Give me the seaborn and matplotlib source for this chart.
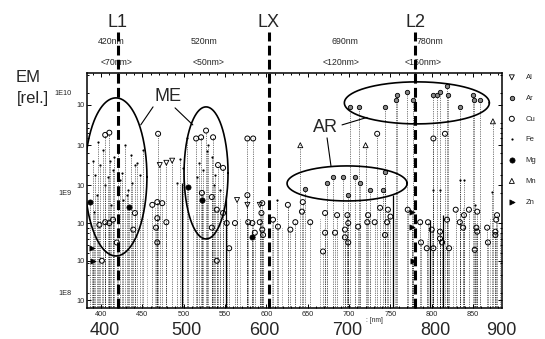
import numpy as np
import pandas as pd
import matplotlib
matplotlib.use("Agg")
import matplotlib.pyplot as plt
from matplotlib.ticker import MultipleLocator, LogLocator, NullLocator, FixedLocator, NullFormatter
import seaborn as sns

# ---------------- data (wavelength in nm, emission in units of 1E9) ----------------
al_nm = [471, 479, 486, 564.5, 577, 592]
al_em = [1.9, 2.0, 2.1, 0.85, 0.76, 0.76]

ar_nm = [701, 712, 743.5, 758, 757, 770, 777, 802, 806, 810, 818.5, 820, 834, 850, 851, 858,
         681, 693, 707, 673, 713, 647, 725, 741, 699, 743.5]
ar_em = [7.2, 7.2, 7.2, 9.5, 8.5, 10.2, 8.5, 9.5, 9.5, 10.2, 11.7, 9.5, 7.2, 9.5, 8.5, 8.5,
         1.45, 1.45, 1.45, 1.26, 1.26, 1.10, 1.07, 1.07, 0.95, 1.62]

cu_nm = [410, 405, 401, 398, 405, 410, 414.5, 441, 439, 419, 462, 468, 474, 468, 479, 466.5, 468, 469,
         515, 521, 527, 535.5, 547.6, 541.5, 522, 534, 540, 547.6, 552, 555, 540, 534,
         577, 584, 562, 583, 595, 596, 577, 578, 592, 586, 595, 594,
         668.5, 671, 683, 695, 699, 695, 699, 711, 723, 722, 731, 737.5, 747, 750, 746, 743.5,
         698, 685.5, 671, 653, 626, 644, 643, 635, 629, 614, 608, 734, 802, 816,
         829, 845, 839, 855, 879, 878, 818.5, 834, 838, 854, 867, 877, 855, 810, 800, 810, 812.5,
         821, 802, 794, 787, 852, 868, 877, 786, 795.5, 771]
cu_em = [4.0, 3.8, 0.21, 0.48, 0.51, 0.50, 0.54, 0.63, 0.43, 0.32, 0.76, 0.81, 0.79, 0.56, 0.51, 0.45, 0.32, 3.9,
         3.5, 3.6, 4.2, 3.6, 1.78, 1.9, 1.0, 0.91, 0.68, 0.63, 0.50, 0.28, 0.21, 0.45,
         3.5, 3.5, 0.50, 0.50, 0.43, 0.38, 0.95, 0.51, 0.51, 0.40, 0.79, 0.63,
         0.26, 0.40, 0.40, 0.43, 0.50, 0.36, 0.32, 0.46, 0.60, 0.51, 0.51, 0.71, 0.68, 0.58, 0.51, 0.38,
         0.60, 0.60, 0.63, 0.51, 0.76, 0.81, 0.65, 0.51, 0.43, 0.46, 0.54, 3.9, 3.5, 3.9,
         0.68, 0.68, 0.60, 0.65, 0.60, 0.54, 0.54, 0.51, 0.45, 0.45, 0.45, 0.41, 0.41, 0.41, 0.43, 0.35, 0.32,
         0.28, 0.28, 0.28, 0.32, 0.27, 0.32, 0.38, 0.51, 0.51, 0.68]

fe_nm = [396, 402, 411, 421, 429, 436, 441, 451, 447, 393, 405, 423, 433, 390, 414.5, 426.6,
         529, 534, 523, 516, 499, 504, 492, 544, 538, 496,
         834, 873, 852, 613, 802, 810, 839,
         395, 399, 408, 416, 425, 431, 438, 444, 392, 412, 528, 519, 537]
fe_em = [3.2, 2.7, 2.1, 2.8, 3.0, 2.4, 1.9, 2.7, 1.51, 1.51, 1.2, 1.35, 1.07, 2.1, 1.70, 0.85,
         3.0, 2.3, 1.70, 1.45, 1.78, 3.5, 1.26, 1.07, 1.51, 2.2,
         1.35, 1.02, 0.76, 0.85, 1.07, 1.07, 1.35,
         0.95, 1.9, 1.45, 2.3, 1.6, 0.95, 1.25, 2.0, 0.65, 0.75, 2.6, 2.0, 1.2]

mg_nm = [387, 434, 522, 583, 505]
mg_em = [0.81, 0.72, 0.85, 0.36, 1.15]

mn_nm = [641, 720, 874]
mn_em = [3.0, 3.0, 5.2]

zn_nm = [389, 776, 776, 777, 390]
zn_em = [0.28, 0.65, 0.46, 0.21, 0.21]

# further spectral lines without a symbol (dotted)
line_nm = [449.6, 455.6, 465.3, 478.6, 511.3, 516, 528.2, 543.9, 564.5, 568.1, 583.9, 596, 606.9,
           618.9, 626.2, 634.7, 664.9, 673.4, 697.6, 707.2, 713.3, 725.4, 743.5, 755.6, 794.3,
           806.4, 818.5, 825.8, 837.9, 858.4, 870.5, 882.6]
line_top = [0.9, 0.55, 0.7, 0.45, 0.6, 0.5, 0.8, 0.4, 0.35, 0.55, 0.3, 0.6, 0.5, 0.45, 0.7, 0.4,
            0.55, 0.35, 0.6, 0.5, 0.4, 0.3, 0.45, 0.55, 0.35, 0.45, 0.6, 0.3, 0.7, 0.5, 0.55, 0.4]

# solid spectral lines
solid_nm = [498, 551, 753, 798, 814]
solid_top = [1.26, 0.95, 0.95, 0.54, 0.60]

# marked laser lines
lx_nm = [420, 603, 780]
lx_labels = ["L1", "LX", "L2"]
top_row1_nm = [412, 524.6, 695, 798]
top_row1 = ["420nm", "520nm", "690nm", "780nm"]
top_row2_nm = [419, 530.6, 690, 789.5]
top_row2 = ["<70nm>", "<50nm>", "<120nm>", "<160nm>"]

# ellipses (centre nm, centre log10 EM, half-width nm, half-height decades)
ell_cx = [418, 527, 782, 697.6]
ell_clog = [9.16, 9.20, 9.90, 9.095]
ell_rx = [37.5, 26.6, 87.7, 72.6]
ell_rlog = [0.79, 0.66, 0.21, 0.175]

# annotation labels and pointer lines (nm, log10 EM)
note_text = ["ME", "AR"]
note_nm = [481, 672]
note_log = [9.96, 9.65]
ptr_x0 = [462.9, 489.5, 691.5, 673.4]
ptr_y0 = [9.86, 9.85, 9.68, 9.55]
ptr_x1 = [448, 511, 721.8, 678.2]
ptr_y1 = [9.68, 9.68, 9.755, 9.265]

# axis ticks
x_small_ticks = [400, 450, 500, 550, 600, 650, 700, 750, 800, 850]
x_big_pos = [404, 503, 598, 698, 804, 884.5]
x_big_labels = ["400", "500", "600", "700", "800", "900"]
y_small_ticks = [7.6e9, 3.0e9, 1.2e9, 5.0e8, 2.1e8, 8.5e7]
y_small_labels = ["10", "10", "10", "10", "10", "10"]
y_big_ticks = [1e10, 1e9, 1e8]
y_big_labels = ["1E10", "1E9", "1E8"]

# ---------------- build table ----------------
elements = {
    "Al": (al_nm, al_em), "Ar": (ar_nm, ar_em), "Cu": (cu_nm, cu_em), "Fe": (fe_nm, fe_em),
    "Mg": (mg_nm, mg_em), "Mn": (mn_nm, mn_em), "Zn": (zn_nm, zn_em),
}
rows = []
for el, (xs, ys) in elements.items():
    for x, y in zip(xs, ys):
        rows.append((el, x, y * 1e9))
df = pd.DataFrame(rows, columns=["element", "nm", "em"])

styles = {
    "Al": dict(marker="v", s=13, facecolor="none", edgecolor="black", linewidth=0.6),
    "Ar": dict(marker="o", s=10, facecolor="#888888", edgecolor="black", linewidth=0.6),
    "Cu": dict(marker="o", s=13, facecolor="none", edgecolor="black", linewidth=0.7),
    "Fe": dict(marker=".", s=10, color="black", linewidth=0),
    "Mg": dict(marker="o", s=14, color="black", edgecolor="black", linewidth=0.5),
    "Mn": dict(marker="^", s=13, facecolor="none", edgecolor="black", linewidth=0.6),
    "Zn": dict(marker=">", s=14, color="black", edgecolor="black", linewidth=0.5),
}

# ---------------- figure ----------------
sns.set_style("ticks")
plt.rcParams["font.family"] = ["Liberation Sans", "DejaVu Sans"]

fig = plt.figure(figsize=(5.45, 3.39), dpi=100)
ax = fig.add_axes([87 / 545, 1 - 308 / 339, 415 / 545, 235 / 339])
ax.set_yscale("log")
ax.set_xlim(383, 885)
ax.set_ylim(7.08e7, 1.58e10)
ymin = ax.get_ylim()[0]

# drop lines for every point and further lines
ax.vlines(df["nm"], ymin, df["em"], colors="black", linewidth=0.5,
          linestyles=(0, (1, 1.6)), zorder=1)
ax.vlines(line_nm, ymin, np.array(line_top) * 1e9, colors="#444444", linewidth=0.5,
          linestyles=(0, (1, 1.6)), zorder=1)
ax.vlines(solid_nm, ymin, np.array(solid_top) * 1e9, colors="black", linewidth=0.9, zorder=1)

for el in elements:
    sub = df[df["element"] == el]
    sns.scatterplot(data=sub, x="nm", y="em", ax=ax, label=el, zorder=3, **styles[el])

# ellipses
t = np.linspace(0, 2 * np.pi, 300)
for cx, cl, rx, rl in zip(ell_cx, ell_clog, ell_rx, ell_rlog):
    ax.plot(cx + rx * np.cos(t), 10 ** (cl + rl * np.sin(t)), color="black", lw=1.2, zorder=4)

# pointers and labels
for x0, y0, x1, y1 in zip(ptr_x0, ptr_y0, ptr_x1, ptr_y1):
    ax.plot([x0, x1], [10 ** y0, 10 ** y1], color="black", lw=0.8, zorder=4)
for txt, x, y in zip(note_text, note_nm, note_log):
    ax.text(x, 10 ** y, txt, fontsize=13, ha="center", va="center", zorder=5)

# laser lines extending above the axes
for x, lab in zip(lx_nm, lx_labels):
    ax.axvline(x, ymin=0, ymax=1.174, clip_on=False, color="black", lw=2.2,
               linestyle=(0, (3.2, 1.4)), zorder=5)
    ax.annotate(lab, xy=(x, 1.217), xycoords=("data", "axes fraction"),
                ha="center", va="center", fontsize=13, annotation_clip=False)
for x, lab in zip(top_row1_nm, top_row1):
    ax.annotate(lab, xy=(x, 1.132), xycoords=("data", "axes fraction"),
                ha="center", va="center", fontsize=6.3, annotation_clip=False)
for x, lab in zip(top_row2_nm, top_row2):
    ax.annotate(lab, xy=(x, 1.043), xycoords=("data", "axes fraction"),
                ha="center", va="center", fontsize=6.3, annotation_clip=False)

# ticks
ax.xaxis.set_major_locator(FixedLocator(x_small_ticks))
ax.set_xticklabels([str(v) for v in x_small_ticks])
ax.xaxis.set_minor_locator(MultipleLocator(10))
ax.xaxis.set_minor_formatter(NullFormatter())
ax.yaxis.set_major_locator(FixedLocator(y_small_ticks))
ax.set_yticklabels(y_small_labels)
ax.yaxis.set_minor_locator(LogLocator(base=10, subs=np.arange(1, 10) * 0.5, numticks=40))
ax.yaxis.set_minor_formatter(NullFormatter())
ax.tick_params(which="both", direction="in", top=True, right=True, labelsize=5.3, pad=2,
               color="black", width=0.7)
ax.tick_params(which="major", length=3)
ax.tick_params(which="minor", length=1.6)
ax.set_xlabel("")
ax.set_ylabel("")
for sp in ax.spines.values():
    sp.set_linewidth(1.1)
    sp.set_color("black")

secx = ax.secondary_xaxis("bottom")
secx.set_xticks(x_big_pos, x_big_labels)
secx.xaxis.set_minor_locator(NullLocator())
secx.tick_params(length=0, pad=10, labelsize=13)
secx.spines["bottom"].set_visible(False)

secy = ax.secondary_yaxis("left")
secy.set_yticks(y_big_ticks, y_big_labels)
secy.yaxis.set_minor_locator(NullLocator())
secy.yaxis.set_minor_formatter(NullFormatter())
secy.tick_params(length=0, pad=11, labelsize=5.3)
secy.spines["left"].set_visible(False)

ax.annotate(": [nm]", xy=(731, -0.052), xycoords=("data", "axes fraction"),
            ha="center", va="center", fontsize=4.8, annotation_clip=False)

fig.text(28 / 545, 1 - 78 / 339, "EM", ha="center", va="center", fontsize=12)
fig.text(33 / 545, 1 - 98 / 339, "[rel.]", ha="center", va="center", fontsize=12)

# legend
handles, labels = ax.get_legend_handles_labels()
if ax.legend_ is not None:
    ax.legend_.remove()
fig.legend(handles, labels, loc="upper left", bbox_to_anchor=(508 / 545, 1 - 74 / 339),
           frameon=False, fontsize=5.5, labelspacing=1.75, handletextpad=1.3,
           handlelength=1.0, borderpad=0, borderaxespad=0)

fig.savefig("out.png", dpi=100)
